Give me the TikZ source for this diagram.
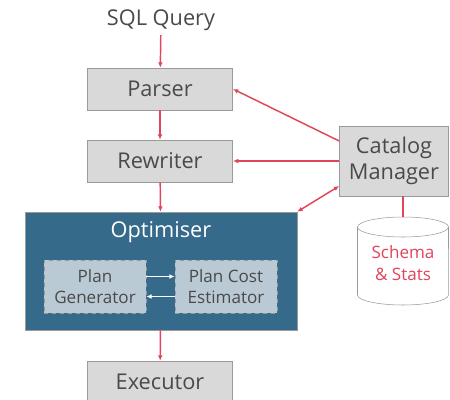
\documentclass[tikz,border=0pt]{standalone}
\usepackage{fontspec}
\setmainfont{Open Sans}
\usetikzlibrary{arrows.meta,positioning,shapes.geometric}
\definecolor{boxgray}{HTML}{D9D9D9}
\definecolor{edgegray}{HTML}{9A9A9A}
\definecolor{textgray}{HTML}{4A4A4A}
\definecolor{linkred}{HTML}{E0455A}
\definecolor{optblue}{HTML}{356A8A}
\definecolor{innerblue}{HTML}{B9CAD4}

\begin{document}
\begin{tikzpicture}[x=0.75pt,y=-0.75pt, >={Latex[length=4pt,width=3.5pt]},
    stage/.style={draw=edgegray, fill=boxgray, text=textgray, minimum width=109pt, minimum height=31.5pt, font=\fontsize{16.3}{19.5}\selectfont},
    inner/.style={draw=edgegray, dashed, fill=innerblue, text=textgray, align=center, minimum width=76.5pt, minimum height=39.75pt, font=\fontsize{12.8}{16}\selectfont},
    link/.style={linkred, line width=1.1pt, ->}]
    \useasboundingbox (0,0) rectangle (450,400);

    % Input
    \node[text=textgray, font=\fontsize{16.3}{19.5}\selectfont] (sql) at (161,20) {SQL Query};

    % Pipeline
    \node[stage] (parser) at (160,89) {Parser};
    \node[stage] (rewriter) at (160,161) {Rewriter};
    \node[draw=edgegray, fill=optblue, minimum width=204pt, minimum height=88.5pt] (opt) at (161,271) {};
    \node[white, font=\fontsize{16.3}{19.5}\selectfont] (optlabel) at (161,232) {Optimiser};
    \node[inner] (gen) at (95,286.5) {Plan\\Generator};
    \node[inner] (cost) at (226,286.5) {Plan Cost\\Estimator};
    \node[stage] (exec) at (160,382) {Executor};

    % Catalog
    \node[stage, minimum width=81.75pt, minimum height=52.5pt, align=center] (cat) at (394,161) {Catalog\\Manager};

    % Schema store (cylinder)
    \coordinate (db) at (403,217);
    \filldraw[draw=edgegray, fill=white] (357.5,227) -- (357.5,295)
        arc[start angle=180, end angle=360, x radius=34.1pt, y radius=7.5pt]
        -- (448.5,227)
        arc[start angle=0, end angle=180, x radius=34.1pt, y radius=7.5pt] -- cycle;
    \draw[edgegray] (357.5,227) arc[start angle=180, end angle=360, x radius=34.1pt, y radius=7.5pt];
    \node[text=linkred, align=center, font=\fontsize{12.8}{16}\selectfont] (dblabel) at (403,263) {Schema\\\& Stats};

    % Main flow
    \draw[link] (sql) -- (parser);
    \draw[link] (parser) -- (rewriter);
    \draw[link] (rewriter) -- (opt);
    \draw[link] (opt) -- (exec);

    % Inside optimiser
    \draw[white, line width=1.1pt, ->] ([yshift=7.5pt]gen.east) -- ([yshift=7.5pt]cost.west);
    \draw[white, line width=1.1pt, ->] ([yshift=-7.5pt]cost.west) -- ([yshift=-7.5pt]gen.east);

    % Catalog lookups
    \draw[link] ([yshift=15pt]cat.west) -- (parser.east);
    \draw[link] (cat.west) -- (rewriter.east);
    \draw[link, <->] ([yshift=-18.75pt]cat.west) -- (opt.north east);
    \draw[linkred, line width=1.1pt] (db) -- (db |- cat.south);

\end{tikzpicture}
\end{document}
